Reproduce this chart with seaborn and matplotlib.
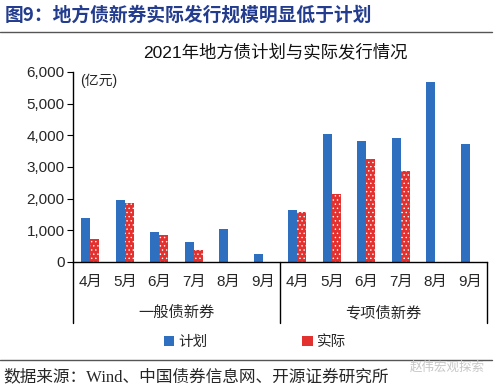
import numpy as np
import pandas as pd
import seaborn as sns
import matplotlib.pyplot as plt
from matplotlib.lines import Line2D
from matplotlib.ticker import FuncFormatter

sns.set_theme(style='white')
plt.rcParams['font.family'] = ['Liberation Sans', 'Noto Sans CJK SC', 'DejaVu Sans']
plt.rcParams['hatch.color'] = 'white'
plt.rcParams['hatch.linewidth'] = 0.5

# data (亿元)
months = ['4月', '5月', '6月', '7月', '8月', '9月']
groups = ['一般债新券', '专项债新券']
series = ['计划', '实际']
general_plan = [1380, 1970, 950, 630, 1040, 240]
general_actual = [710, 1860, 840, 390, np.nan, np.nan]
special_plan = [1640, 4030, 3830, 3910, 5680, 3740]
special_actual = [1570, 2140, 3240, 2880, np.nan, np.nan]
colors = ['#2e6fc0', '#e3312f']

rows = []
for g, plan, actual in [(groups[0], general_plan, general_actual),
                        (groups[1], special_plan, special_actual)]:
    for m, p, a in zip(months, plan, actual):
        rows.append({'key': g + m, 'series': series[0], 'value': p})
        rows.append({'key': g + m, 'series': series[1], 'value': a})
df = pd.DataFrame(rows)
order = [g + m for g in groups for m in months]

fig = plt.figure(figsize=(5, 3.91), dpi=100)
ax = fig.add_axes([0.146, 0.330, 0.828, 0.486])

sns.barplot(data=df, x='key', y='value', hue='series', order=order,
            hue_order=series, palette=colors, width=0.52, saturation=1,
            linewidth=0, errorbar=None, ax=ax)

for bar in ax.containers[1]:
    bar.set_hatch('....')

ax.set_ylim(0, 6000)
ax.set_xlim(-0.5, 11.5)
ax.set_yticks(range(0, 6001, 1000))
ax.yaxis.set_major_formatter(FuncFormatter(lambda v, p: f'{int(v):,}'))
ax.tick_params(axis='y', direction='out', length=4, width=0.8, labelsize=11,
               pad=2, left=True, color='black')
ax.set_xticks(range(12))
ax.set_xticklabels(months * 2, fontsize=11)
ax.tick_params(axis='x', length=0, pad=9)
ax.set_xlabel('')
ax.set_ylabel('')
for s in ['top', 'right']:
    ax.spines[s].set_visible(False)
for s in ['left', 'bottom']:
    ax.spines[s].set_color('black')
    ax.spines[s].set_linewidth(1.0)

# multi-level category axis separators
tr = ax.get_xaxis_transform()
for xb in [-0.5, 5.5, 11.5]:
    ax.plot([xb, xb], [0, -0.32], transform=tr, color='black', lw=1.0,
            clip_on=False)
for i, g in enumerate(groups):
    ax.text(2.5 + 6 * i, -0.268, g, transform=tr, ha='center', va='center',
            fontsize=11)

ax.text(0.017, 0.953, '(亿元)', transform=ax.transAxes, ha='left',
        va='center', fontsize=10)

handles, labels = ax.get_legend_handles_labels()
ax.legend_.remove()
for h in handles:
    h.set_hatch(None)
fig.legend(handles, labels, loc='center', bbox_to_anchor=(0.51, 0.125),
           ncol=2, frameon=False, fontsize=10.5, handlelength=0.7,
           handleheight=0.7, handletextpad=0.3, columnspacing=6.5)

fig.text(0.55, 0.867, '2021年地方债计划与实际发行情况', ha='center',
         va='center', fontsize=12.5, color='#111111')
fig.text(0.01, 0.962, '图9：地方债新券实际发行规模明显低于计划', ha='left',
         va='center', fontsize=13.5, fontweight='bold', color='#233c8e',
         family=['Noto Sans CJK SC', 'DejaVu Sans'])
fig.add_artist(Line2D([0, 0.984], [0.918, 0.918], color='#555555', lw=1.0))
fig.add_artist(Line2D([0, 0.984], [0.079, 0.079], color='#555555', lw=1.0))
fig.text(0.006, 0.036, '数据来源：Wind、中国债券信息网、开源证券研究所',
         ha='left', va='center', fontsize=12,
         family=['Liberation Serif', 'Noto Sans CJK SC'])
fig.text(0.97, 0.06, '赵伟宏观探索', ha='right', va='center', fontsize=9,
         color='#c8c8c8', family=['Noto Sans CJK SC', 'DejaVu Sans'])

fig.savefig('out.png', dpi=100)
